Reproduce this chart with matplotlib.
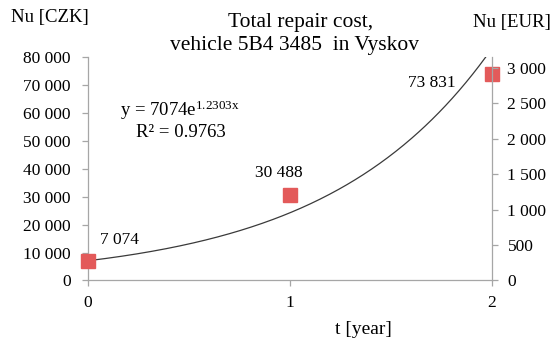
import matplotlib
matplotlib.use("Agg")
import matplotlib.pyplot as plt
import numpy as np
from matplotlib.ticker import FuncFormatter, MultipleLocator

plt.rcParams["font.family"] = ["Liberation Serif", "DejaVu Serif"]
plt.rcParams["mathtext.fontset"] = "custom"
plt.rcParams["mathtext.rm"] = "Liberation Serif"
plt.rcParams["mathtext.it"] = "Liberation Serif:italic"

# Data
years = [0, 1, 2]
cost_czk = [7074, 30488, 73831]
cost_labels = ["7 074", "30 488", "73 831"]
fit_a = 7074
fit_b = 1.2303
r_squared = 0.9763
czk_per_eur = 25.35

grey = "#A6A6A6"
marker_color = "#E35A5A"
tick_fs = 12.5

fig = plt.figure(figsize=(5.52, 3.44), dpi=100)
ax = fig.add_axes([0.1594, 0.1846, 0.7310, 0.6497])

# Exponential trend line
xs = np.linspace(0, 2, 300)
ax.plot(xs, fit_a * np.exp(fit_b * xs), color="#3A3A3A", lw=0.9, zorder=2)

# Measured values
ax.plot(years, cost_czk, linestyle="none", marker="s", ms=9.5,
        color=marker_color, mec=marker_color, clip_on=False, zorder=3)

ax.set_xlim(0, 2)
ax.set_ylim(0, 80000)
ax.xaxis.set_major_locator(MultipleLocator(1))
ax.yaxis.set_major_locator(MultipleLocator(10000))

fmt = FuncFormatter(lambda v, p: f"{int(round(v)):,}".replace(",", " "))
ax.yaxis.set_major_formatter(fmt)

for s in ["top", "right"]:
    ax.spines[s].set_visible(False)
for s in ["left", "bottom"]:
    ax.spines[s].set_color(grey)
    ax.spines[s].set_linewidth(0.9)

ax.tick_params(axis="y", direction="out", length=4.5, width=0.9, color=grey,
               labelsize=tick_fs, pad=8)
ax.tick_params(axis="x", direction="out", length=4.5, width=0.9, color=grey,
               labelsize=tick_fs, pad=6)

# Secondary axis in EUR
ax2 = ax.twinx()
ax2.set_ylim(0, 80000 / czk_per_eur)
ax2.yaxis.set_major_locator(MultipleLocator(500))
ax2.yaxis.set_major_formatter(fmt)
for s in ["top", "left", "bottom"]:
    ax2.spines[s].set_visible(False)
ax2.spines["right"].set_color(grey)
ax2.spines["right"].set_linewidth(0.9)
ax2.tick_params(axis="y", direction="out", length=4.5, width=0.9, color=grey,
                labelsize=tick_fs, pad=7)

# Point value labels
offsets = [(23, 15), (-8, 16), (-43, -6.5)]
for x, y, lab, off in zip(years, cost_czk, cost_labels, offsets):
    ax.annotate(lab, (x, y), xytext=off, textcoords="offset points",
                ha="center", va="center", fontsize=tick_fs, zorder=4)

# Trend equation
ax.text(0.079, 0.763, r"y = 7074e$^{\mathrm{1.2303x}}$", transform=ax.transAxes,
        ha="left", va="center", fontsize=13.5)
ax.text(0.231, 0.664, f"R² = {r_squared}", transform=ax.transAxes,
        ha="center", va="center", fontsize=13.5)

# Titles and axis names
fig.text(0.545, 0.936, "Total repair cost,", ha="center", va="center", fontsize=15.5)
fig.text(0.533, 0.869, "vehicle 5B4 3485  in Vyskov", ha="center", va="center",
         fontsize=15.5)
fig.text(0.091, 0.948, "Nu [CZK]", ha="center", va="center", fontsize=13.5)
fig.text(0.927, 0.936, "Nu [EUR]", ha="center", va="center", fontsize=13.5)
fig.text(0.658, 0.041, "t [year]", ha="center", va="center", fontsize=14)

fig.savefig("out.png", dpi=100)
